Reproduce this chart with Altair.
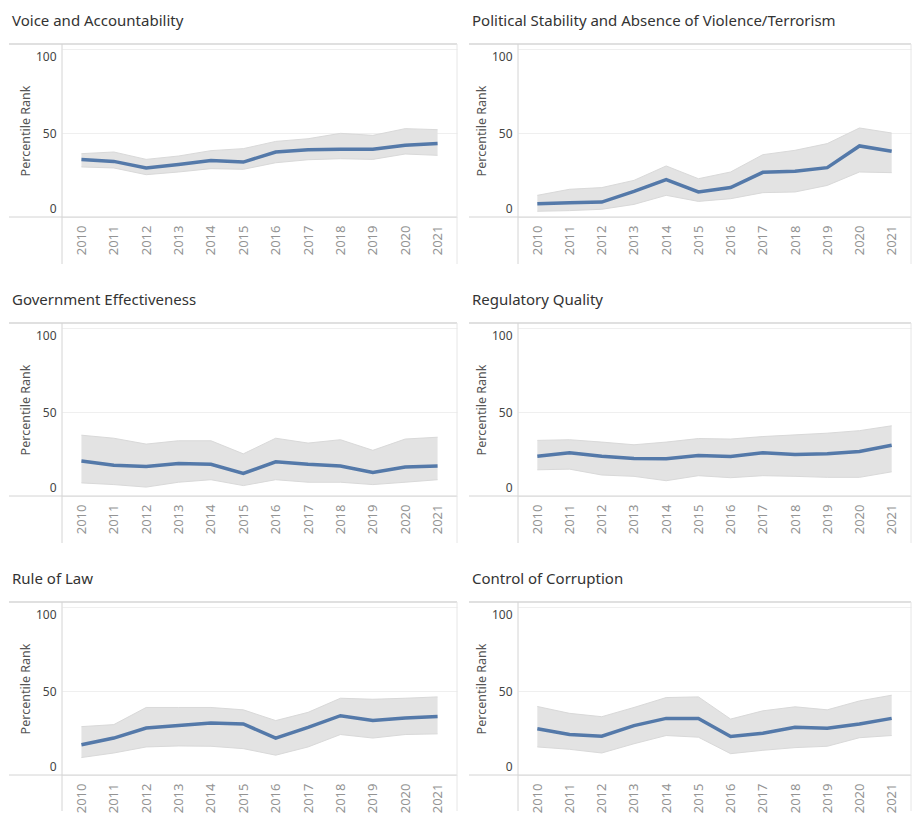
import altair as alt
import pandas as pd

years = [2010, 2011, 2012, 2013, 2014, 2015, 2016, 2017, 2018, 2019, 2020, 2021]

indicators = [
    "Voice and Accountability",
    "Political Stability and Absence of Violence/Terrorism",
    "Government Effectiveness",
    "Regulatory Quality",
    "Rule of Law",
    "Control of Corruption",
]

voice_rank = [34.3, 33.1, 29.2, 31.3, 33.7, 32.7, 38.7, 40.1, 40.3, 40.3, 42.7, 43.7]
voice_upper = [37.7, 38.7, 34.3, 36.3, 39.5, 40.7, 45.0, 46.6, 49.8, 48.6, 52.6, 52.0]
voice_lower = [29.8, 29.2, 25.2, 26.8, 28.8, 28.4, 32.3, 34.1, 34.7, 34.3, 37.5, 36.7]

polstab_rank = [7.9, 8.5, 8.9, 15.3, 22.2, 14.9, 17.5, 26.6, 27.2, 29.4, 42.3, 39.1]
polstab_upper = [12.9, 16.5, 17.5, 21.8, 30.4, 22.8, 26.8, 37.1, 39.7, 43.7, 53.0, 50.0]
polstab_lower = [3.4, 3.8, 4.6, 7.5, 12.9, 9.3, 10.9, 14.5, 14.9, 18.8, 26.8, 26.4]

goveff_rank = [20.8, 18.3, 17.5, 19.3, 18.9, 13.4, 20.4, 18.9, 17.9, 14.0, 17.3, 17.9]
goveff_upper = [36.2, 34.4, 30.9, 32.9, 32.9, 25.1, 34.4, 31.5, 33.5, 27.2, 33.9, 35.0]
goveff_lower = [7.8, 6.8, 5.3, 8.2, 9.7, 6.2, 9.7, 8.2, 8.2, 6.8, 8.2, 9.7]

regq_rank = [23.7, 25.7, 23.7, 22.4, 22.2, 24.1, 23.5, 25.7, 24.7, 25.1, 26.5, 30.2]
regq_upper = [33.1, 33.5, 32.1, 30.5, 32.1, 34.2, 33.9, 35.4, 36.4, 37.4, 38.9, 41.8]
regq_lower = [15.6, 16.0, 12.5, 11.7, 9.1, 12.1, 10.9, 12.1, 11.7, 11.1, 11.1, 14.4]

law_rank = [18.0, 22.0, 28.0, 29.4, 31.0, 30.4, 22.0, 28.4, 35.3, 32.4, 33.9, 34.9]
law_upper = [28.8, 30.0, 40.2, 40.2, 40.2, 38.8, 32.4, 37.3, 45.7, 45.1, 45.7, 46.5]
law_lower = [10.4, 13.1, 16.7, 17.3, 17.1, 15.7, 11.8, 16.7, 24.1, 22.0, 24.1, 24.5]

corr_rank = [27.5, 24.1, 23.1, 29.4, 33.7, 33.7, 22.9, 24.9, 28.4, 27.8, 30.4, 33.7]
corr_upper = [40.8, 36.7, 34.7, 40.2, 46.1, 46.5, 33.3, 38.2, 40.6, 38.8, 44.1, 47.5]
corr_lower = [16.7, 15.3, 13.1, 18.6, 23.5, 22.5, 12.7, 14.7, 16.3, 17.1, 22.2, 23.5]

series = {
    indicators[0]: (voice_rank, voice_lower, voice_upper),
    indicators[1]: (polstab_rank, polstab_lower, polstab_upper),
    indicators[2]: (goveff_rank, goveff_lower, goveff_upper),
    indicators[3]: (regq_rank, regq_lower, regq_upper),
    indicators[4]: (law_rank, law_lower, law_upper),
    indicators[5]: (corr_rank, corr_lower, corr_upper),
}

FONT = "Noto Sans"
FRAME = "#d4d4d4"


def panel(name, width, height, ext_left, ext_down):
    rank, lower, upper = series[name]
    df = pd.DataFrame({"year": years, "rank": rank, "lower": lower, "upper": upper})
    base = alt.Chart(df)
    x = alt.X(
        "year:O",
        scale=alt.Scale(type="point", padding=0.6),
        axis=alt.Axis(
            title=None,
            labelAngle=270,
            labelAlign="right",
            labelBaseline="middle",
            labelPadding=8,
            labelFontSize=13,
            labelColor="#939393",
            labelFont=FONT,
            ticks=False,
            domain=False,
            grid=False,
        ),
    )
    yscale = alt.Scale(domain=[0, 103], nice=False)
    band = base.mark_area(color="#e3e3e3", opacity=1).encode(
        x=x,
        y=alt.Y(
            "lower:Q",
            scale=yscale,
            axis=alt.Axis(
                title="Percentile Rank",
                values=[0, 50, 100],
                labelFlush=8,
                labelFlushOffset=-2,
                ticks=False,
                domain=False,
                grid=True,
                gridColor="#efefef",
                labelPadding=6,
                labelFontSize=12,
                labelColor="#444444",
                labelFont=FONT,
                titleFont=FONT,
                titleFontSize=12.5,
                titleFontWeight="normal",
                titleColor="#555555",
                titlePadding=3,
            ),
        ),
        y2="upper:Q",
    )
    edge_lo = base.mark_line(color="#d9d9d9", strokeWidth=1).encode(x=x, y=alt.Y("lower:Q", scale=yscale))
    edge_hi = base.mark_line(color="#d9d9d9", strokeWidth=1).encode(x=x, y=alt.Y("upper:Q", scale=yscale))
    line = base.mark_line(color="#5479a9", strokeWidth=3.5).encode(x=x, y=alt.Y("rank:Q", scale=yscale))

    one = alt.Data(values=[{"k": 1}])
    top_rule = alt.Chart(one).mark_rule(color="#e0e0e0", strokeWidth=2).encode(
        x=alt.value(-ext_left), x2=alt.value(width), y=alt.value(0)
    )
    bottom_rule = alt.Chart(one).mark_rule(color=FRAME, strokeWidth=1).encode(
        x=alt.value(-ext_left), x2=alt.value(width), y=alt.value(height)
    )
    left_rule = alt.Chart(one).mark_rule(color=FRAME, strokeWidth=1).encode(
        x=alt.value(0), y=alt.value(0), y2=alt.value(height + ext_down)
    )
    right_rule = alt.Chart(one).mark_rule(color="#e6e6e6", strokeWidth=1).encode(
        x=alt.value(width), y=alt.value(0), y2=alt.value(height + ext_down)
    )

    return alt.layer(band, edge_lo, edge_hi, line, top_rule, bottom_rule, left_rule, right_rule).properties(
        width=width,
        height=height,
        title=alt.TitleParams(
            text=name,
            anchor="start",
            fontSize=15,
            fontWeight="normal",
            color="#333333",
            font=FONT,
            offset=14,
            dx=4,
        ),
    )


rows = []
for r in range(3):
    ext_down = 47 if r < 2 else 36
    left = panel(indicators[2 * r], 395, 173, 53, ext_down)
    right = panel(indicators[2 * r + 1], 393, 173, 49, ext_down)
    rows.append(alt.hconcat(left, right, spacing=10))

chart = (
    alt.vconcat(*rows, spacing=28)
    .properties(padding={"left": 0, "top": 6, "right": 0, "bottom": 0}, background="white")
    .configure_view(strokeWidth=0)
)

chart.save("out.html", embed_options={"renderer": "svg", "actions": False})
